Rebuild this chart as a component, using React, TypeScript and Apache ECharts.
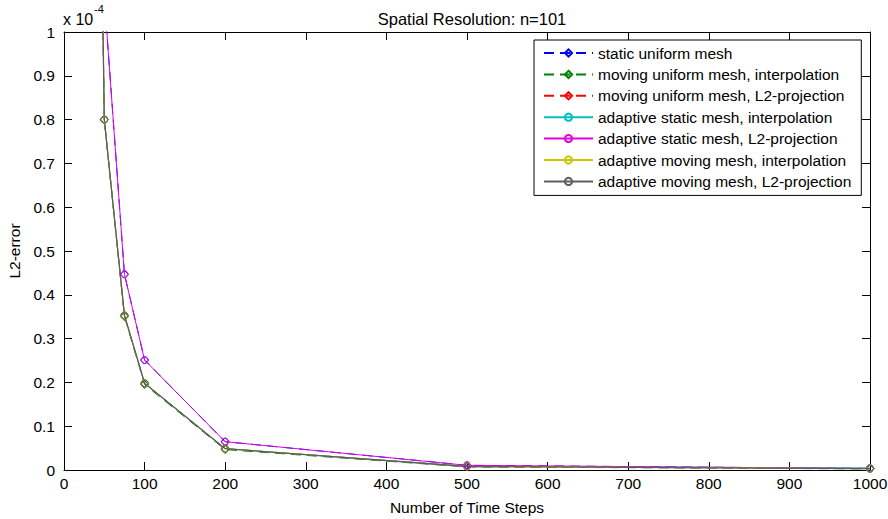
import React, { useEffect, useRef } from "react";
import * as echarts from "echarts";

// Number of time steps (x) and L2-error values (in units of 1e-4)
const timeSteps = [25, 50, 75, 100, 200, 500, 1000];
const staticUniform = [5.0, 1.08, 0.447, 0.251, 0.0646, 0.0107, 0.0035];
const movingUniformInterp = [4.0, 0.8, 0.35, 0.195, 0.0465, 0.007, 0.0025];
const movingUniformL2 = [4.0, 0.8, 0.353, 0.198, 0.0487, 0.008, 0.003];
const adaptiveStaticInterp = [4.0, 0.8, 0.353, 0.198, 0.0487, 0.0085, 0.0045];
const adaptiveStaticL2 = [5.0, 1.08, 0.447, 0.251, 0.0646, 0.0107, 0.0035];
const adaptiveMovingInterp = [4.0, 0.8, 0.353, 0.198, 0.0487, 0.008, 0.003];
const adaptiveMovingL2 = [4.0, 0.8, 0.353, 0.198, 0.0487, 0.008, 0.003];

const seriesNames = [
  "static uniform mesh",
  "moving uniform mesh, interpolation",
  "moving uniform mesh, L2-projection",
  "adaptive static mesh, interpolation",
  "adaptive static mesh, L2-projection",
  "adaptive moving mesh, interpolation",
  "adaptive moving mesh, L2-projection",
];
const seriesValues = [
  staticUniform,
  movingUniformInterp,
  movingUniformL2,
  adaptiveStaticInterp,
  adaptiveStaticL2,
  adaptiveMovingInterp,
  adaptiveMovingL2,
];
const seriesColors = ["#0000ff", "#008000", "#ff0000", "#00c0c0", "#e000e0", "#c8c800", "#5e5e5e"];
const seriesDashed = [true, true, true, false, false, false, false];
const seriesSymbols = ["diamond", "diamond", "diamond", "circle", "circle", "circle", "circle"];
const seriesWidths = [1, 1, 1, 1, 1, 1, 1.3];

const xTicks = { min: 0, max: 1000, interval: 100 };
const yTicks = { min: 0, max: 1, interval: 0.1 };

const FONT = "'Liberation Sans', Arial, Helvetica, sans-serif";
const FS = 15.5;

export default function App() {
  const ref = useRef<HTMLDivElement>(null);

  useEffect(() => {
    if (!ref.current) return;
    const chart = echarts.init(ref.current, undefined, { renderer: "svg" });

    const series = seriesNames.map((name, i) => ({
      name,
      type: "line",
      data: timeSteps.map((x, j) => [x, seriesValues[i][j]]),
      symbol: seriesSymbols[i],
      symbolSize: seriesSymbols[i] === "diamond" ? 8 : 7,
      showSymbol: true,
      clip: true,
      lineStyle: {
        color: seriesColors[i],
        width: seriesWidths[i],
        type: seriesDashed[i] ? [10, 6] : "solid",
      },
      itemStyle: {
        color: "transparent",
        borderColor: seriesColors[i],
        borderWidth: 1,
      },
      emphasis: { disabled: true },
    }));

    const axisCommonX = {
      type: "value",
      min: xTicks.min,
      max: xTicks.max,
      interval: xTicks.interval,
      axisLine: { show: true, onZero: false, lineStyle: { color: "#000", width: 1 } },
      axisTick: { show: true, inside: true, length: 8, lineStyle: { color: "#000" } },
      splitLine: { show: false },
    };
    const axisCommonY = {
      type: "value",
      min: yTicks.min,
      max: yTicks.max,
      interval: yTicks.interval,
      axisLine: { show: true, onZero: false, lineStyle: { color: "#000", width: 1 } },
      axisTick: { show: true, inside: true, length: 8, lineStyle: { color: "#000" } },
      splitLine: { show: false },
    };

    chart.setOption({
      animation: false,
      backgroundColor: "#fff",
      textStyle: { fontFamily: FONT },
      title: {
        text: "Spatial Resolution: n=101",
        left: 467,
        top: 5,
        textAlign: "center",
        textStyle: { fontSize: 16.5, fontWeight: "normal", color: "#000", fontFamily: FONT },
      },
      grid: {
        left: 64,
        right: 18,
        top: 32,
        bottom: 49,
        containLabel: false,
        outerBoundsMode: "none",
      },
      legend: {
        orient: "vertical",
        left: 534,
        top: 40,
        itemWidth: 49,
        itemHeight: 9,
        itemGap: 5.4,
        padding: [5, 10, 6, 9],
        borderColor: "#000",
        borderWidth: 1,
        borderRadius: 0,
        backgroundColor: "#fff",
        selectedMode: false,
        z: 10,
        data: seriesNames,
        textStyle: { fontSize: FS, color: "#000", fontFamily: FONT, lineHeight: 16 },
      },
      xAxis: [
        {
          ...axisCommonX,
          position: "bottom",
          name: "Number of Time Steps",
          nameLocation: "middle",
          nameGap: 29,
          nameTextStyle: { fontSize: FS, color: "#000", fontFamily: FONT },
          axisLabel: {
            show: true,
            color: "#000",
            fontSize: FS,
            margin: 5,
            fontFamily: FONT,
            formatter: (v: number) => String(v),
          },
        },
        {
          ...axisCommonX,
          position: "top",
          axisLabel: { show: false },
        },
      ],
      yAxis: [
        {
          ...axisCommonY,
          position: "left",
          name: "L2-error",
          nameLocation: "middle",
          nameGap: 40,
          nameTextStyle: { fontSize: FS, color: "#000", fontFamily: FONT },
          axisLabel: {
            show: true,
            color: "#000",
            fontSize: FS,
            margin: 9,
            fontFamily: FONT,
            formatter: (v: number) => String(Math.round(v * 10) / 10),
          },
        },
        {
          ...axisCommonY,
          position: "right",
          axisLabel: { show: false },
        },
      ],
      graphic: [
        {
          type: "text",
          left: 63,
          top: 11,
          style: { text: "x 10", fontSize: 16, fill: "#000", fontFamily: FONT },
        },
        {
          type: "text",
          left: 94,
          top: 3,
          style: { text: "-4", fontSize: 11, fill: "#000", fontFamily: FONT },
        },
      ],
      series,
    });

    return () => chart.dispose();
  }, []);

  return (
    <div
      ref={ref}
      style={{ position: "fixed", left: 0, top: 0, width: 888, height: 519, background: "#fff" }}
    />
  );
}
